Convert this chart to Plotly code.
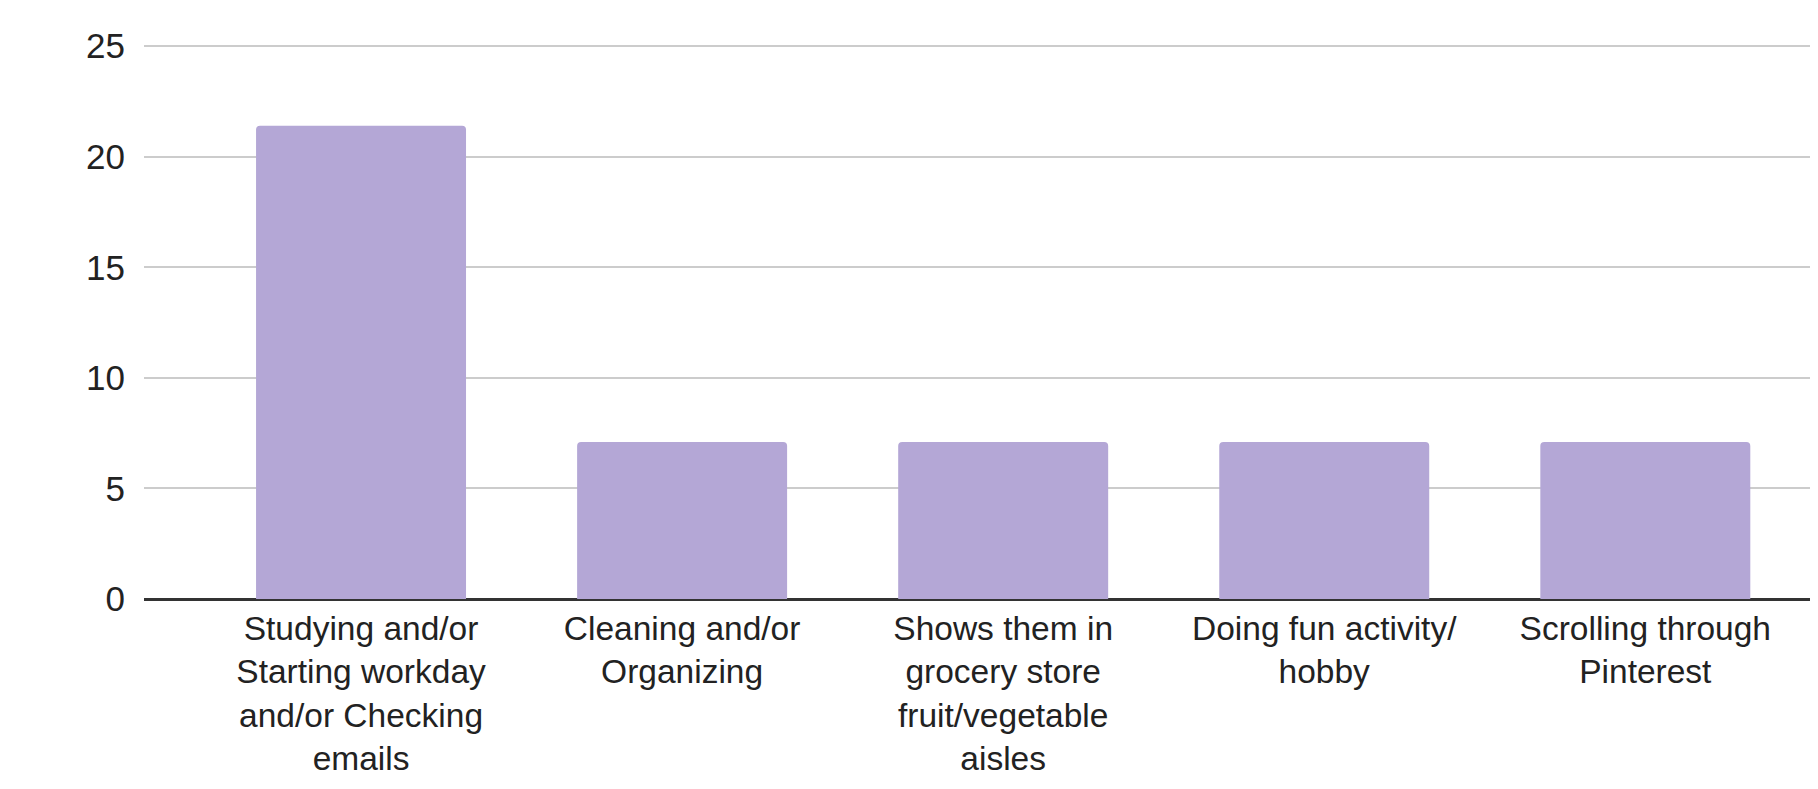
import plotly.graph_objects as go

categories = [
    "Studying and/or<br>Starting workday<br>and/or Checking<br>emails",
    "Cleaning and/or<br>Organizing",
    "Shows them in<br>grocery store<br>fruit/vegetable<br>aisles",
    "Doing fun activity/<br>hobby",
    "Scrolling through<br>Pinterest",
]
values = [21.4, 7.1, 7.1, 7.1, 7.1]
y_ticks = [0, 5, 10, 15, 20, 25]

fig = go.Figure(
    go.Bar(
        x=list(range(len(categories))),
        y=values,
        marker=dict(color="#b4a7d6", line=dict(width=0)),
        width=0.654,
    )
)

fig.update_layout(
    width=1820,
    height=773,
    margin=dict(l=136, r=0, t=37, b=182),
    paper_bgcolor="white",
    plot_bgcolor="white",
    barcornerradius=4,
    showlegend=False,
    font=dict(family="Liberation Sans, Arial, sans-serif", size=35, color="#222222"),
)
fig.update_xaxes(
    tickmode="array",
    tickvals=list(range(len(categories))),
    ticktext=categories,
    range=[-0.676, 4.569],
    showgrid=False,
    showline=False,
    zeroline=False,
    ticks="",
    ticklabelstandoff=6,
    automargin=False,
    tickfont=dict(size=33.5),
)
fig.update_yaxes(
    range=[0, 25.05],
    tickmode="array",
    tickvals=y_ticks,
    showgrid=True,
    gridcolor="#cccccc",
    gridwidth=2,
    zeroline=True,
    zerolinecolor="#333333",
    zerolinewidth=3,
    showline=False,
    ticks="",
    ticklabelstandoff=18,
    automargin=False,
    tickfont=dict(size=35),
)

fig.write_html("out.html")
